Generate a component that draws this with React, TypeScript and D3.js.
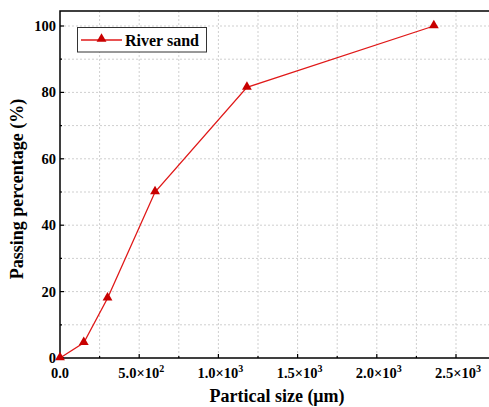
import React from "react";
import * as d3 from "d3";

const sizes = [0, 150, 300, 600, 1180, 2360];
const passing = [0, 4.6, 18, 50, 81.5, 100];
const seriesName = "River sand";
const xTicks = [0, 500, 1000, 1500, 2000, 2500];
const xTickMantissa = ["0.0", "5.0×10", "1.0×10", "1.5×10", "2.0×10", "2.5×10"];
const xTickExponent = ["", "2", "3", "3", "3", "3"];
const yTicks = [0, 20, 40, 60, 80, 100];

const W = 489;
const H = 407;
const margin = { top: 11, left: 60, bottom: 49 };
const plotRight = 520;

const font = "'Liberation Serif', 'Times New Roman', serif";
const red = "#e01818";
const darkRed = "#c80000";

export default function App() {
  const x = d3.scaleLinear().domain([0, 1000]).range([margin.left, margin.left + 158.4]);
  const y = d3.scaleLinear().domain([0, 100]).range([H - margin.bottom, 26]);
  const top = margin.top;
  const bottom = H - margin.bottom;

  const line = d3
    .line<number>()
    .x((_, i) => x(sizes[i]))
    .y((d) => y(d));

  const xMinor = d3.range(250, 2750, 250).filter((v) => v % 500 !== 0);
  const yMinor = d3.range(10, 110, 20);
  const xGrid = d3.range(250, 2750, 250);
  const yGrid = d3.range(10, 110, 10);

  const tri = d3.symbol().type(d3.symbolTriangle).size(42)();

  return (
    <svg
      width={W}
      height={H}
      style={{ position: "absolute", left: 0, top: 0, display: "block", background: "#fff" }}
    >
      {/* grid */}
      <g stroke="#cfcfcf" strokeWidth={1} strokeDasharray="2,2">
        {xGrid.map((v) => (
          <line key={"gx" + v} x1={x(v)} x2={x(v)} y1={top} y2={bottom} />
        ))}
        {yGrid.map((v) => (
          <line key={"gy" + v} x1={margin.left} x2={plotRight} y1={y(v)} y2={y(v)} />
        ))}
      </g>

      {/* frame */}
      <rect
        x={margin.left}
        y={top}
        width={plotRight - margin.left}
        height={bottom - top}
        fill="none"
        stroke="#000"
        strokeWidth={1.5}
      />

      {/* ticks, inward */}
      <g stroke="#000" strokeWidth={1.2}>
        {xTicks.map((v) => (
          <line key={"tx" + v} x1={x(v)} x2={x(v)} y1={bottom} y2={bottom - 4} />
        ))}
        {xMinor.map((v) => (
          <line key={"mx" + v} x1={x(v)} x2={x(v)} y1={bottom} y2={bottom - 2} />
        ))}
        {yTicks.map((v) => (
          <line key={"ty" + v} x1={margin.left} x2={margin.left + 4} y1={y(v)} y2={y(v)} />
        ))}
        {yMinor.map((v) => (
          <line key={"my" + v} x1={margin.left} x2={margin.left + 2} y1={y(v)} y2={y(v)} />
        ))}
      </g>

      {/* tick labels */}
      <g fontFamily={font} fontWeight="bold" fontSize={14.5} fill="#000">
        {xTicks.map((v, i) => (
          <text key={"lx" + v} x={x(v) + (xTickExponent[i] ? 2 : 0)} y={bottom + 20} textAnchor="middle">
            {xTickMantissa[i]}
            {xTickExponent[i] ? (
              <tspan fontSize={10} dy={-6}>
                {xTickExponent[i]}
              </tspan>
            ) : null}
          </text>
        ))}
        {yTicks.map((v) => (
          <text key={"ly" + v} x={margin.left - 4} y={y(v) + 5} textAnchor="end">
            {v}
          </text>
        ))}
      </g>

      {/* axis titles */}
      <text x={277} y={402} textAnchor="middle" fontFamily={font} fontWeight="bold" fontSize={18}>
        Partical size (μm)
      </text>
      <text
        transform={`translate(23, ${189}) rotate(-90)`}
        textAnchor="middle"
        fontFamily={font}
        fontWeight="bold"
        fontSize={18}
      >
        Passing percentage (%)
      </text>

      {/* series */}
      <path d={line(passing) ?? ""} fill="none" stroke={red} strokeWidth={1.3} />
      {passing.map((v, i) => (
        <path
          key={"p" + i}
          d={tri ?? ""}
          transform={`translate(${x(sizes[i])}, ${y(v) - 0.5})`}
          fill={darkRed}
        />
      ))}

      {/* legend */}
      <rect x={77.5} y={27.5} width={129} height={24.5} fill="#fff" stroke="#333" strokeWidth={1} />
      <line x1={81} x2={122} y1={40} y2={40} stroke={red} strokeWidth={1.3} />
      <path d={tri ?? ""} transform="translate(101.5, 39)" fill={darkRed} />
      <text x={125} y={45.5} fontFamily={font} fontWeight="bold" fontSize={16}>
        {seriesName}
      </text>
    </svg>
  );
}
